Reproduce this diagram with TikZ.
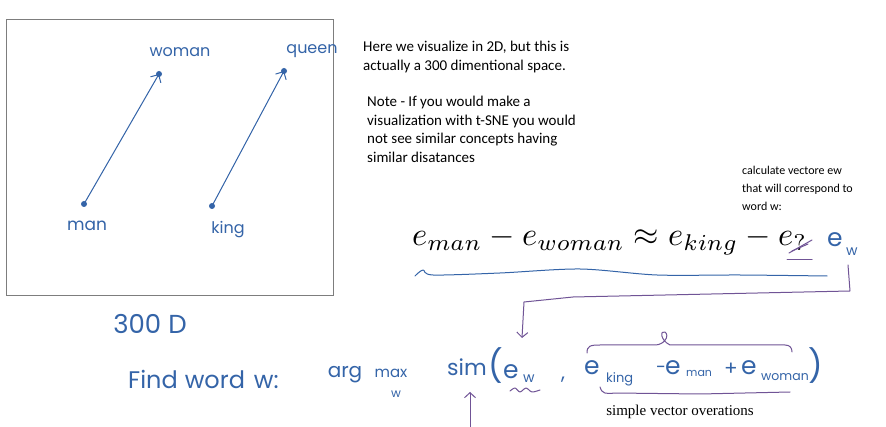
\documentclass[tikz,border=0pt]{standalone}
\usepackage{fontspec}
\setmainfont{Carlito}
\newfontfamily\hand{Poppins}
\newfontfamily\tnr{Liberation Serif}
\usetikzlibrary{arrows.meta}
\definecolor{hblue}{RGB}{52,100,168}
\definecolor{hpurple}{RGB}{112,84,150}
\definecolor{boxgray}{RGB}{125,125,125}
\begin{document}
\begin{tikzpicture}[x=1pt,y=-1pt,
  hw/.style={text=hblue,font=\hand\fontsize{#1}{#1}\selectfont,inner sep=0pt},
  hw/.default=18,
  hb/.style={hw=#1,anchor=base west},
  note/.style={font=\fontsize{15}{#1}\selectfont,align=left,anchor=north west,inner sep=0pt},
  dotpt/.style={circle,fill=hblue,minimum size=6pt,inner sep=0pt},
  vec/.style={hblue,line width=1pt,-{Straight Barb[length=6pt,width=12pt]}},
  pen/.style={hpurple,line width=1pt,line cap=round,line join=round},
  bluepen/.style={hblue,line width=1pt,line cap=round,line join=round}]
\useasboundingbox[fill=white] (0,0) rectangle (886,427);
% frame
\draw[boxgray,line width=1pt] (6,20) rectangle (333,296);
% points
\node[dotpt] (man) at (84,204) {};
\node[dotpt] (woman) at (159,74) {};
\node[dotpt] (king) at (212,206) {};
\node[dotpt] (queen) at (284,71) {};
\draw[vec] (man.center) -- (woman.center);
\draw[vec] (king.center) -- (queen.center);
\node[hw=17] (lman) at (87,226) {man};
\node[hw=16] (lwoman) at (180,52) {woman};
\node[hw=16] (lking) at (228,230) {king};
\node[hw=16] (lqueen) at (312,51) {queen};
% notes
\node[note=19] (n1) at (363,41) {Here we visualize in 2D, but this is\\actually a 300 dimentional space.};
\node[note=18.5] (n2) at (367,96) {Note - If you would make a\\visualization with t-SNE you would\\not see similar concepts having\\similar disatances};
\node[note=18,font=\fontsize{12}{18}\selectfont] (n3) at (742,166) {calculate vectore ew\\that will correspond to\\word w:};
% equation
\node[anchor=base west,inner sep=0pt] (eq) at (412,246) {\resizebox{395pt}{!}{$e_{man} - e_{woman} \approx e_{king} - e_{?}$}};
\draw[pen] (789,253) -- (812,240);
\draw[pen] (792,251) -- (808,244);
\draw[pen] (787,260) -- (812,260);
\node[hb=25] (ewe) at (827,247) {e};
\node[hb=14] (eww) at (846,256) {w};
\draw[bluepen] plot[smooth] coordinates {(415,276) (423,270) (433,275) (500,273) (580,269) (657,275) (740,275) (827,276)};
% bracket connector
\coordinate (b0) at (848,265);
\coordinate (b1) at (850,291);
\coordinate (b2) at (573,297);
\coordinate (b3) at (524,302);
\coordinate (b4) at (522,338);
\draw[pen,-{Straight Barb[length=5pt,width=11pt]}] (b0) -- (b1) -- (b2) -- (b3) -- (b4);
% bottom
\node[hw=26] (d300) at (150,324) {300 D};
\node[hw=24,anchor=west] (find) at (128,379) {Find\hspace{7pt}word\hspace{9pt}w:};
\node[hw=20] (arg) at (345,375) {arg};
\node[hw=15] (max) at (391,373) {max};
\node[hw=12] (maxw) at (396,394) {w};
\node[hw=22] (sim) at (467,367) {sim};
\node[hw=32] (lp) at (496,366) {(};
\node[hb=25] (se) at (503,378) {e};
\node[hb=14] (sew) at (523,382) {w};
\draw[pen] plot[smooth] coordinates {(510,391) (515,388) (520,392) (526,388) (532,392) (540,390)};
\node[hw=20] (comma) at (563,380) {,};
\node[hb=25] (ke) at (584,374) {e};
\node[hb=13] (kk) at (606,382) {king};
\node[hw=18] (minus) at (661,369.5) {-};
\node[hb=25] (me) at (665,374) {e};
\node[hb=11] (mm) at (686,377) {man};
\node[hw=20] (plus) at (731,369) {+};
\node[hb=25] (we) at (741,374) {e};
\node[hb=12.5] (ww) at (761,381) {woman};
\node[hw=32] (rp) at (816,366) {)};
% braces
\draw[pen] (587,353) .. controls (587,346) and (590,345) .. (600,345) -- (655,345) .. controls (664,345) and (670,336) .. (665,332) .. controls (660,330) and (660,340) .. (670,345) -- (785,345) .. controls (790,345) and (792,348) .. (792,352);
\draw[pen] (600,387) .. controls (602,394) and (606,394) .. (615,393) -- (700,394) -- (790,392);
\node[font=\tnr\fontsize{15}{15}\selectfont,inner sep=0pt] (simple) at (680,412) {simple vector overations};
\coordinate (up0) at (470,427);
\coordinate (up1) at (470,392);
\draw[pen,-{Straight Barb[length=5pt,width=11pt]}] (up0) -- (up1);
\end{tikzpicture}
\end{document}
